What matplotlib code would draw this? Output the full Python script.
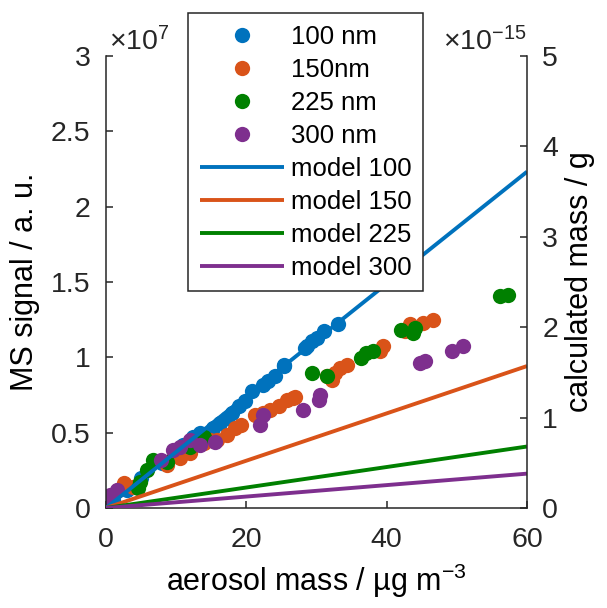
import numpy as np
import matplotlib
matplotlib.use("Agg")
import matplotlib.pyplot as plt
from matplotlib.ticker import FuncFormatter, FixedLocator

plt.rcParams["font.family"] = ["Liberation Sans", "DejaVu Sans"]
plt.rcParams["mathtext.fontset"] = "custom"
plt.rcParams["mathtext.rm"] = "Liberation Sans"
plt.rcParams["mathtext.it"] = "Liberation Sans:italic"
plt.rcParams["mathtext.bf"] = "Liberation Sans:bold"

# ---- measured MS signal vs aerosol mass (signal in units of 1e7 a.u.) ----
mass_100 = [12.4, 13.4, 15.3, 16.2, 17.2, 17.9, 18.9, 19.8, 20.8, 22.4, 23.1,
            24.1, 25.3, 25.3, 28.6, 28.4, 29.3, 30.0, 31.0, 33.1,
            1.0, 3.0, 5.0, 8.0, 11.0]
sig_100 = [0.474, 0.497, 0.530, 0.564, 0.597, 0.630, 0.674, 0.707, 0.774, 0.818,
           0.840, 0.874, 0.951, 0.940, 1.073, 1.063, 1.106, 1.129, 1.173, 1.218,
           0.05, 0.12, 0.20, 0.30, 0.42]

mass_150 = [2.5, 1.75, 3.9, 8.65, 10.5, 12.0, 13.9, 14.8, 15.8, 17.2, 18.4, 19.3,
            21.2, 22.4, 23.4, 24.6, 25.8, 26.7, 26.9, 31.5, 32.2, 32.6, 33.3,
            34.3, 39.0, 39.5, 42.6, 43.3, 45.2, 46.6]
sig_150 = [0.164, 0.120, 0.142, 0.286, 0.331, 0.364, 0.430, 0.452, 0.452, 0.486,
           0.530, 0.552, 0.619, 0.630, 0.652, 0.674, 0.719, 0.730, 0.740, 0.874,
           0.852, 0.896, 0.929, 0.951, 1.040, 1.073, 1.173, 1.218, 1.229, 1.251]

mass_225 = [4.6, 4.85, 5.8, 6.7, 8.65, 12.0, 13.9, 29.3, 31.5, 36.4, 37.1, 38.1,
            42.1, 43.8, 44.0, 56.1, 57.3]
sig_225 = [0.131, 0.175, 0.253, 0.319, 0.308, 0.408, 0.474, 0.896, 0.874, 0.996,
           1.029, 1.040, 1.184, 1.162, 1.196, 1.406, 1.417]

mass_300 = [0.33, 0.6, 1.5, 7.9, 9.6, 10.5, 12.0, 13.4, 15.5, 21.9, 22.4, 28.1,
            30.3, 30.5, 44.7, 45.5, 49.3, 50.9]
sig_300 = [0.075, 0.086, 0.120, 0.319, 0.386, 0.408, 0.452, 0.419, 0.441, 0.552,
           0.619, 0.652, 0.719, 0.752, 0.963, 0.973, 1.040, 1.073]

# ---- model: calculated particle mass (g) along the aerosol-mass range ----
model_mass = [0, 60]
model_100 = [0, 3.72e-15]
model_150 = [0, 1.57e-15]
model_225 = [0, 0.68e-15]
model_300 = [0, 0.38e-15]

scatter_labels = ["100 nm", "150nm", "225 nm", "300 nm"]
model_labels = ["model 100", "model 150", "model 225", "model 300"]
colors = ["#0072BD", "#D95319", "#008000", "#7E2F8E"]

SIG_SCALE = 1e7
left_ticks = [0, 0.5e7, 1e7, 1.5e7, 2e7, 2.5e7, 3e7]
right_ticks = [0, 1e-15, 2e-15, 3e-15, 4e-15, 5e-15]
x_ticks = [0, 20, 40, 60]

axis_col = "#262626"
tick_fs = 20.5
label_fs = 22
legend_fs = 18.5

fig = plt.figure(figsize=(6.07, 6.08), dpi=100)
ax = fig.add_axes([106 / 607, 1 - 508 / 608, 421 / 607, 452 / 608])
ax2 = ax.twinx()

handles = []
for m, s, c, lab in zip([mass_100, mass_150, mass_225, mass_300],
                        [sig_100, sig_150, sig_225, sig_300], colors, scatter_labels):
    h, = ax.plot(m, np.asarray(s) * SIG_SCALE, linestyle="none", marker="o",
                 markersize=11, color=c, markeredgewidth=0, label=lab)
    handles.append(h)

for vals, c, lab in zip([model_100, model_150, model_225, model_300], colors, model_labels):
    h, = ax2.plot(model_mass, vals, color=c, linewidth=2.8, label=lab,
                  solid_capstyle="butt")
    handles.append(h)

ax.set_xlim(0, 60)
ax.set_ylim(0, 3e7)
ax2.set_ylim(0, 5e-15)

ax.xaxis.set_major_locator(FixedLocator(x_ticks))
ax.yaxis.set_major_locator(FixedLocator(left_ticks))
ax2.yaxis.set_major_locator(FixedLocator(right_ticks))
ax.yaxis.set_major_formatter(FuncFormatter(lambda v, p: f"{v / 1e7:g}"))
ax2.yaxis.set_major_formatter(FuncFormatter(lambda v, p: f"{v / 1e-15:g}"))

for a in (ax, ax2):
    a.spines["top"].set_visible(False)
    for sp in a.spines.values():
        sp.set_color(axis_col)
        sp.set_linewidth(1.1)
    a.tick_params(direction="in", length=5, width=1.1, colors=axis_col,
                  labelsize=tick_fs, pad=11)
ax.spines["right"].set_visible(False)
ax2.spines["left"].set_visible(False)
ax2.spines["bottom"].set_visible(False)
ax.tick_params(axis="x", pad=14)

ax.set_xlabel(r"$\mathregular{aerosol\ mass\ /\ µg\ m^{-3}}$", fontsize=label_fs,
              color="black", labelpad=6)
ax.set_ylabel("MS signal / a. u.", fontsize=label_fs, color="black", labelpad=8)
ax2.set_ylabel("calculated mass / g", fontsize=label_fs, color="black", labelpad=5)

ax.text(0.008, 1.0, r"$\mathregular{\times10^{7}}$", transform=ax.transAxes,
        fontsize=tick_fs, color=axis_col, ha="left", va="bottom")
ax2.text(1.0, 1.0, r"$\mathregular{\times10^{-15}}$", transform=ax2.transAxes,
         fontsize=tick_fs, color=axis_col, ha="right", va="bottom")

leg = ax2.legend(handles=handles, loc="upper left",
                 bbox_to_anchor=(188 / 607, 1 - 13 / 608), bbox_transform=fig.transFigure,
                 borderaxespad=0, fontsize=legend_fs, numpoints=1, handlelength=3.27,
                 handletextpad=0.27, labelspacing=0.35, borderpad=0.45,
                 frameon=True, fancybox=False, edgecolor=axis_col, framealpha=1)
leg.get_frame().set_linewidth(1.1)
leg.set_zorder(10)

fig.savefig("out.png", dpi=100)
